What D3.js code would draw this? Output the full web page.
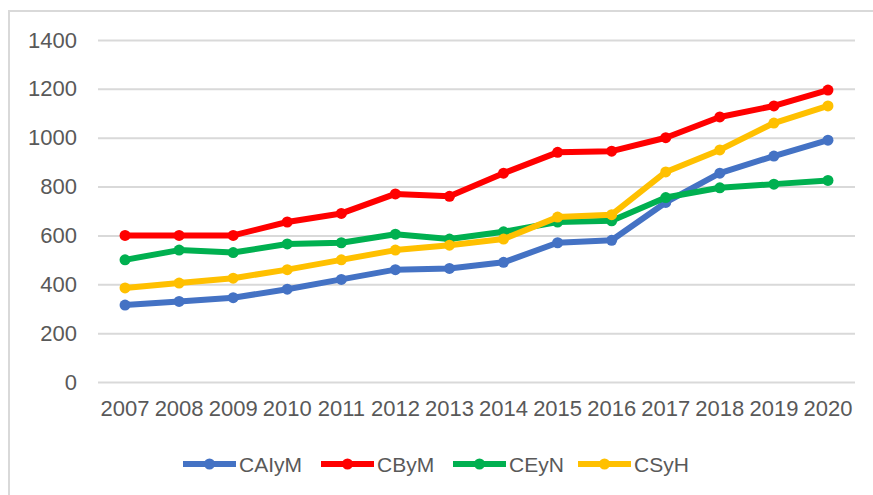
<!DOCTYPE html>
<html>
<head>
<meta charset="utf-8">
<script src="https://cdn.jsdelivr.net/npm/d3@7"></script>
<style>
  body { margin: 0; background: #fff; }
  text { font-family: "Liberation Sans", Arial, sans-serif; fill: #595959; }
</style>
</head>
<body>
<script>
// data
const years = ['2007','2008','2009','2010','2011','2012','2013','2014','2015','2016','2017','2018','2019','2020'];
const seriesNames = ['CAIyM', 'CByM', 'CEyN', 'CSyH'];
const caiym = [315, 330, 345, 380, 420, 460, 465, 490, 570, 580, 735, 855, 925, 990];
const cbym  = [600, 600, 600, 655, 690, 770, 760, 855, 940, 945, 1000, 1085, 1130, 1195];
const ceyn  = [500, 540, 530, 565, 570, 605, 585, 615, 655, 660, 755, 795, 810, 825];
const csyh  = [385, 405, 425, 460, 500, 540, 560, 585, 675, 685, 860, 950, 1060, 1130];
const yTicks = [0, 200, 400, 600, 800, 1000, 1200, 1400];

const colors = ['#4472C4', '#FF0000', '#00B050', '#FFC000'];
const allSeries = [caiym, cbym, ceyn, csyh];

const [w, h] = [873, 495];
const plot = {left: 98, right: 855, top: 40, bottom: 382};

const svg = d3.select('body').append('svg')
    .attr('width', w)
    .attr('height', h);

// outer frame
svg.append('rect')
    .attr('x', 9).attr('y', 11)
    .attr('width', 880).attr('height', 500)
    .attr('fill', 'none')
    .attr('stroke', '#d9d9d9')
    .attr('stroke-width', 2);

const x = d3.scaleBand()
    .domain(years)
    .range([plot.left, plot.right]);

const y = d3.scaleLinear()
    .domain([0, 1400])
    .range([plot.bottom, plot.top]);

// gridlines + y labels
const yAxis = d3.axisLeft(y)
    .tickValues(yTicks)
    .tickFormat(d3.format('d'))
    .tickSize(-(plot.right - plot.left))
    .tickPadding(21);

const gy = svg.append('g')
    .attr('transform', `translate(${plot.left},0)`)
    .call(yAxis);
gy.select('.domain').remove();
gy.selectAll('line').attr('stroke', '#d9d9d9').attr('stroke-width', 2);
gy.selectAll('text').attr('font-size', '22px').attr('fill', '#595959');

// x labels
const xAxis = d3.axisBottom(x).tickSize(0).tickPadding(18);
const gx = svg.append('g')
    .attr('transform', `translate(0,${plot.bottom})`)
    .call(xAxis);
gx.select('.domain').remove();
gx.selectAll('text').attr('font-size', '22px').attr('fill', '#595959');

const cx = d => x(d) + x.bandwidth() / 2;

const line = d3.line()
    .x((d, i) => cx(years[i]))
    .y(d => y(d));

allSeries.forEach((vals, k) => {
    const g = svg.append('g');
    g.append('path')
        .datum(vals)
        .attr('d', line)
        .attr('fill', 'none')
        .attr('stroke', colors[k])
        .attr('stroke-width', 6)
        .attr('stroke-linejoin', 'round');
    g.selectAll('circle')
        .data(vals)
        .enter()
        .append('circle')
        .attr('cx', (d, i) => cx(years[i]))
        .attr('cy', d => y(d))
        .attr('r', 5.5)
        .attr('fill', colors[k]);
});

// legend
const legendX = [183, 321, 453, 578];
const legendY = 464;
const legend = svg.append('g');
seriesNames.forEach((name, k) => {
    const lg = legend.append('g').attr('transform', `translate(${legendX[k]},${legendY})`);
    lg.append('line')
        .attr('x1', 0).attr('x2', 53)
        .attr('y1', 0).attr('y2', 0)
        .attr('stroke', colors[k])
        .attr('stroke-width', 6);
    lg.append('circle')
        .attr('cx', 26.5).attr('cy', 0)
        .attr('r', 5.5)
        .attr('fill', colors[k]);
    lg.append('text')
        .attr('x', 56)
        .attr('y', 8)
        .attr('font-size', '21px')
        .text(name);
});
</script>
</body>
</html>
